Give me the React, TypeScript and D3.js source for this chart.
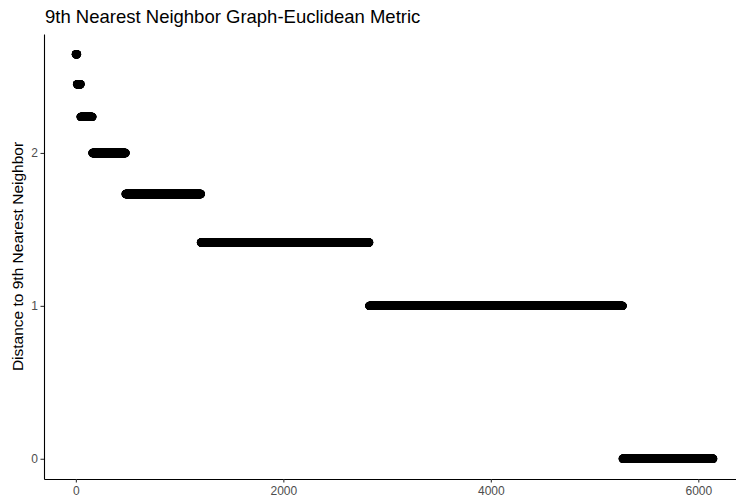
import React, { useEffect, useRef } from "react";
import * as d3 from "d3";

// distance levels (sorted desc) and how many points sit at each level
const levels: number[] = [Math.sqrt(7), Math.sqrt(6), Math.sqrt(5), 2, Math.sqrt(3), Math.sqrt(2), 1, 0];
const counts: number[] = [12, 34, 114, 320, 726, 1622, 2444, 872];
const xTicks: number[] = [0, 2000, 4000, 6000];
const yTicks: number[] = [0, 1, 2];

const App: React.FC = () => {
  const svgRef = useRef<SVGSVGElement>(null);

  useEffect(() => {
    const width = 736;
    const height = 499;
    const svg = d3.select(svgRef.current);
    svg.selectAll("*").remove();
    svg.attr("width", width).attr("height", height);

    // build sorted distances, one per point
    const dist: number[] = [];
    levels.forEach((lv, i) => {
      for (let k = 0; k < counts[i]; k++) dist.push(lv);
    });
    const n = dist.length;
    const xMax = n - 1;
    const xPad = xMax * 0.05;
    const yMax = d3.max(levels) as number;
    const yPad = yMax * 0.05;

    const left = 44;
    const top = 34;
    const bottom = 479;
    const right = 745;

    const x = d3.scaleLinear().domain([-xPad, xMax + xPad]).range([left, right]);
    const y = d3.scaleLinear().domain([-yPad, yMax + yPad]).range([bottom, top]);

    // points
    svg
      .append("g")
      .selectAll("circle")
      .data(dist)
      .enter()
      .append("circle")
      .attr("cx", (_, i) => x(i))
      .attr("cy", (d) => y(d))
      .attr("r", 4.2)
      .attr("fill", "#000");

    // axes
    const xAxis = svg
      .append("g")
      .attr("transform", `translate(0,${bottom})`)
      .call(d3.axisBottom(x).tickValues(xTicks).tickSize(3.5).tickSizeOuter(0).tickFormat(d3.format("d")));
    const yAxis = svg
      .append("g")
      .attr("transform", `translate(${left},0)`)
      .call(d3.axisLeft(y).tickValues(yTicks).tickSize(3.5).tickSizeOuter(0).tickFormat(d3.format("d")));

    [xAxis, yAxis].forEach((ax) => {
      ax.select(".domain").attr("stroke", "#000").attr("stroke-width", 1.1);
      ax.selectAll(".tick line").attr("stroke", "#333").attr("stroke-width", 1.1);
      ax.selectAll(".tick text")
        .attr("fill", "#4d4d4d")
        .attr("font-size", "12px")
        .attr("font-family", "Liberation Sans, Arial, sans-serif");
    });
    xAxis.selectAll(".tick text").attr("y", 6).attr("dy", "0.8em");
    yAxis.selectAll(".tick text").attr("x", -6);

    // title
    svg
      .append("text")
      .attr("x", 45)
      .attr("y", 23)
      .attr("font-size", "18.5px")
      .attr("font-family", "Liberation Sans, Arial, sans-serif")
      .attr("fill", "#000")
      .text("9th Nearest Neighbor Graph-Euclidean Metric");

    // y label
    svg
      .append("text")
      .attr("transform", `translate(23,${(top + bottom) / 2}) rotate(-90)`)
      .attr("text-anchor", "middle")
      .attr("font-size", "15.5px")
      .attr("font-family", "Liberation Sans, Arial, sans-serif")
      .attr("fill", "#000")
      .text("Distance to 9th Nearest Neighbor");
  }, []);

  return <svg ref={svgRef} style={{ position: "absolute", left: 0, top: 0 }}></svg>;
};

export default App;
